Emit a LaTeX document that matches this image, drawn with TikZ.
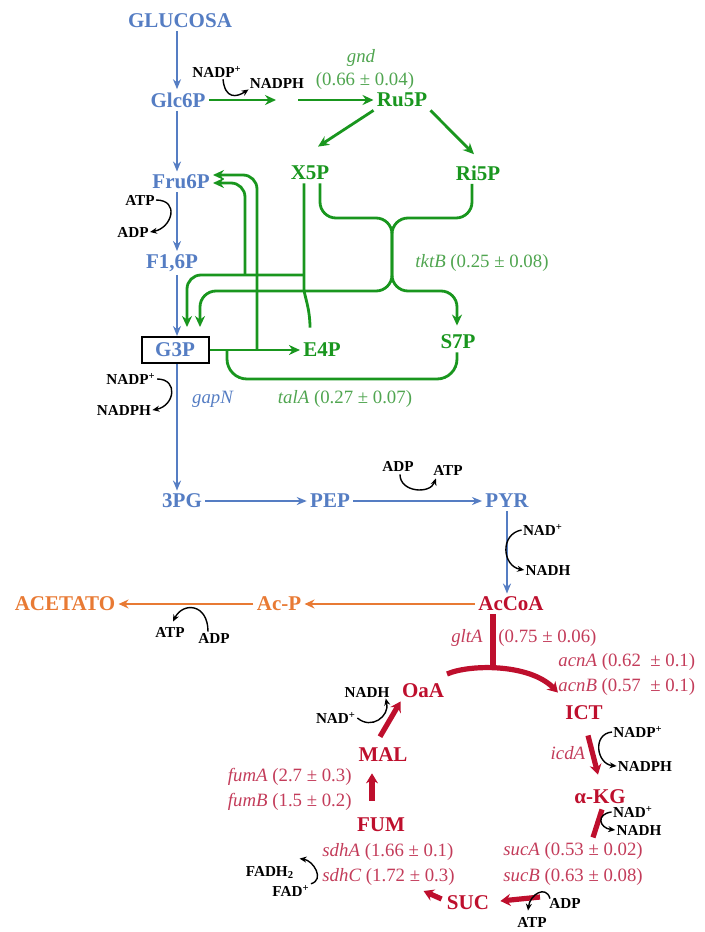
\documentclass[tikz,border=0pt]{standalone}
\usepackage{fontspec}
\setmainfont{Liberation Serif}
\usetikzlibrary{arrows.meta,calc}
\definecolor{glyblue}{RGB}{85,125,195}
\definecolor{pppgreen}{RGB}{25,150,30}
\definecolor{pppgene}{RGB}{80,165,80}
\definecolor{acorange}{RGB}{232,122,52}
\definecolor{tcared}{RGB}{190,15,45}
\definecolor{tcagene}{RGB}{195,60,90}
\tikzset{
  met/.style={
    font=\fontsize{10.5}{12}\selectfont\bfseries,
    inner sep=1.5pt
  },
  glcmet/.style={met, text=glyblue},
  pppmet/.style={met, text=pppgreen},
  acmet/.style={met, text=acorange},
  tcamet/.style={met, text=tcared},
  cofac/.style={font=\fontsize{7.6}{9}\selectfont\bfseries, inner sep=0.5pt},
  gene/.style={font=\fontsize{9.4}{11}\selectfont, inner sep=0pt},
  glyflow/.style={glyblue, line width=1pt, -{Stealth[length=5pt,width=4pt]}},
  pppline/.style={pppgreen, line width=1.4pt, rounded corners=7pt},
  pppflow/.style={pppline, -{Stealth[length=5.5pt,width=5pt]}},
  acflow/.style={acorange, line width=1.4pt, -{Stealth[length=5pt,width=4.5pt]}},
  tcastub/.style={tcared, line width=2.6pt},
  tcaflow/.style={tcastub, -{Stealth[length=5pt,width=6pt]}},
  cofflow/.style={black, line width=0.7pt, -{Stealth[length=3.5pt,width=3pt]}}
}

\begin{document}
\begin{tikzpicture}[x=0.5pt, y=-0.5pt]
  \useasboundingbox (0,0) rectangle (705,932);
  % glycolysis
  \coordinate (glycol) at (177,0);
  \node[glcmet] (glucosa) at (180,21) {GLUCOSA};
  \node[glcmet] (glc6p) at (178,100) {Glc6P};
  \node[glcmet] (fru6p) at (181,182) {Fru6P};
  \node[glcmet] (f16p) at (172,263) {F1,6P};
  \node[glcmet, draw=black, line width=1pt, minimum width=33.5pt, minimum height=13pt]
    (g3p) at (175,350) {G3P};
  \node[glcmet] (pg3) at (182,501) {3PG};
  \node[glcmet] (pep) at (330,501) {PEP};
  \node[glcmet] (pyr) at (507,501) {PYR};
  \node[tcamet] (accoa) at (511,604) {AcCoA};
  \node[acmet] (acp) at (279,604) {Ac-P};
  \node[acmet] (acetato) at (65,604) {ACETATO};
  % pentose phosphate
  \node[pppmet] (ru5p) at (402,100) {Ru5P};
  \node[pppmet] (x5p) at (310,173) {X5P};
  \node[pppmet] (ri5p) at (478,173) {Ri5P};
  \node[pppmet] (e4p) at (322,350) {E4P};
  \node[pppmet] (s7p) at (458,342) {S7P};
  % TCA
  \node[tcamet] (oaa) at (423,691) {OaA};
  \node[tcamet] (ict) at (584,713) {ICT};
  \node[tcamet] (akg) at (600,797) {α-KG};
  \node[tcamet] (mal) at (383,755) {MAL};
  \node[tcamet] (fum) at (381,825) {FUM};
  \node[tcamet] (suc) at (468,903) {SUC};

  % cofactors
  \node[cofac] (nadpa) at (217,72) {NADP\textsuperscript{+}};
  \node[cofac] (nadpha) at (277,83) {NADPH};
  \node[cofac] (atpa) at (140,200) {ATP};
  \node[cofac] (adpa) at (133,232) {ADP};
  \node[cofac] (nadpb) at (131,379) {NADP\textsuperscript{+}};
  \node[cofac] (nadphb) at (124,410) {NADPH};
  \node[cofac] (adpb) at (398,466) {ADP};
  \node[cofac] (atpb) at (448,470) {ATP};
  \node[cofac] (nada) at (543,530) {NAD\textsuperscript{+}};
  \node[cofac] (nadha) at (548,570) {NADH};
  \node[cofac] (atpc) at (170,632) {ATP};
  \node[cofac] (adpc) at (214,638) {ADP};
  \node[cofac] (nadhb) at (367,692) {NADH};
  \node[cofac] (nadb) at (336,718) {NAD\textsuperscript{+}};
  \node[cofac] (nadpc) at (638,732) {NADP\textsuperscript{+}};
  \node[cofac] (nadphc) at (645,766) {NADPH};
  \node[cofac] (nadc) at (633,812) {NAD\textsuperscript{+}};
  \node[cofac] (nadhc) at (639,830) {NADH};
  \node[cofac] (fadh) at (270,872) {FADH\textsubscript{2}};
  \node[cofac] (fad) at (291,891) {FAD\textsuperscript{+}};
  \node[cofac] (adpd) at (565,903) {ADP};
  \node[cofac] (atpd) at (532,922) {ATP};

  % genes
  \node[gene, text=pppgene] (gnd) at (361,58) {\textit{gnd}};
  \node[gene, text=pppgene] (gndv) at (365,81) {(0.66 ± 0.04)};
  \node[gene, text=pppgene] (tktb) at (482,263) {\textit{tktB} (0.25 ± 0.08)};
  \node[gene, text=pppgene] (tala) at (345,399) {\textit{talA} (0.27 ± 0.07)};
  \node[gene, text=glyblue] (gapn) at (213,399) {\textit{gapN}};
  \node[gene, text=tcagene] (glta) at (467,638) {\textit{gltA}};
  \node[gene, text=tcagene, anchor=west] (gltav) at (498,638) {(0.75 ± 0.06)};
  \node[gene, text=tcagene, anchor=west] (acna) at (558,662) {\textit{acnA} (0.62 \ ± 0.1)};
  \node[gene, text=tcagene, anchor=west] (acnb) at (558,687) {\textit{acnB} (0.57 \ ± 0.1)};
  \node[gene, text=tcagene] (icda) at (568,753) {\textit{icdA}};
  \node[gene, text=tcagene, anchor=east] (fuma) at (352,777) {\textit{fumA} (2.7 ± 0.3)};
  \node[gene, text=tcagene, anchor=east] (fumb) at (352,802) {\textit{fumB} (1.5 ± 0.2)};
  \node[gene, text=tcagene, anchor=west] (sdha) at (322,852) {\textit{sdhA} (1.66 ± 0.1)};
  \node[gene, text=tcagene, anchor=west] (sdhc) at (322,877) {\textit{sdhC} (1.72 ± 0.3)};
  \node[gene, text=tcagene, anchor=west] (suca) at (503,851) {\textit{sucA} (0.53 ± 0.02)};
  \node[gene, text=tcagene, anchor=west] (sucb) at (503,877) {\textit{sucB} (0.63 ± 0.08)};

  % glycolysis arrows
  \foreach \a/\b in {glucosa/glc6p, glc6p/fru6p, fru6p/f16p, f16p/g3p, g3p/pg3}
    \draw[glyflow] (\a.south -| glycol) -- (\b.north -| glycol);
  \draw[glyflow] (pg3) -- (pep);
  \draw[glyflow] (pep) -- (pyr);
  \draw[glyflow] (pyr) -- (pyr |- accoa.north);

  % pentose phosphate arrows
  \coordinate (pgl) at (276,100);
  \coordinate (pgr) at (298,100);
  \coordinate (x5pj) at (304,275);
  \coordinate (x5pr) at (320,218);
  \coordinate (ri5pd) at (472,218);
  \coordinate (xcross) at (392,254);
  \coordinate (s7pin) at (457,291);
  \coordinate (g3pa) at (187,275);
  \coordinate (g3pb) at (200,291);
  \coordinate (fru6pa) at (245,183);
  \coordinate (fru6pb) at (257,175);
  \coordinate (talj) at (227,350);
  \coordinate (talb) at (457,379);
  \draw[pppflow] (glc6p) -- (pgl);
  \draw[pppflow] (pgr) -- (ru5p);
  \draw[pppflow] (ru5p.south west) -- ($(x5p.north)+(8,-16)$);
  \draw[pppflow] (ru5p.south east) -- ($(ri5p.north)+(-4,-8)$);
  \draw[pppline] (x5p.south -| x5pj) -- (x5pj)
    .. controls +(0,20) and +(0,-20) .. ($(e4p.north)+(-12,-12)$);
  \draw[pppflow] (x5pj) -- (g3pa) -- ($(g3p.north -| g3pa)+(0,-9)$);
  \draw[pppflow] (x5pj -| fru6pa) -- (fru6pa) -- (fru6pa -| fru6p.east);
  \draw[pppflow] (g3p -| fru6pb) -- (fru6pb) -- (fru6pb -| fru6p.east);
  \draw[pppflow] (g3p) -- (e4p);
  \draw[pppline, rounded corners=10pt] (talj) -- (talj |- talb) -- (talb) -- (s7p.south -| talb);
  \draw[pppflow, rounded corners=8pt] (x5p.south -| x5pr) -- (x5pr) -- (x5pr -| xcross)
    -- (s7pin -| xcross) -- (s7pin) -- ($(s7p.north -| s7pin)+(0,-6)$);
  \draw[pppflow, rounded corners=8pt] (ri5p.south -| ri5pd) -- (ri5pd) -- (ri5pd -| xcross)
    -- (g3pb -| xcross) -- (g3pb) -- ($(g3p.north -| g3pb)+(0,-9)$);

  % acetate arrows
  \draw[acflow] (accoa) -- (acp);
  \draw[acflow] (acp) -- (acetato);

  % TCA arrows
  \coordinate (gltj) at (493,668);
  \coordinate (oaaarc) at (447,674);
  \coordinate (sucin) at (540,897);
  \draw[tcastub] (accoa.south -| gltj) -- (gltj);
  \draw[tcaflow] (oaaarc) .. controls +(23,-10) and +(-28,-29) .. ($(ict.north west)+(-4,-10)$);
  \draw[tcaflow] ($(ict.south)+(4,12)$) -- ($(akg.north)+(-2,-12)$);
  \draw[tcastub] ($(akg.south)+(2,2)$) -- ($(akg.south)+(-7,30)$);
  \draw[tcaflow] (sucin) -- ($(suc.east)+(8,-2)$);
  \draw[tcaflow] ($(suc.west)+(-2,-4)$) -- ($(suc.west)+(-20,-12)$);
  \draw[tcaflow] ($(fum.north)+(-9,-14)$) -- ($(mal.south)+(-11,8)$);
  \draw[tcaflow] ($(mal.north)+(-3,-8)$) -- ($(oaa.south west)+(2,0)$);

  % cofactor arrows
  \draw[cofflow] ($(nadpa.south)+(6,0)$) .. controls +(2,20) and +(-12,8) .. (nadpha.south west);
  \draw[cofflow] (atpa.east) .. controls +(24,0) and +(22,-4) .. (adpa.east);
  \draw[cofflow] (nadpb.east) .. controls +(22,0) and +(22,-4) .. (nadphb.east);
  \draw[cofflow] ($(adpb.south)+(2,2)$) .. controls +(0,18) and +(-6,16) .. ($(atpb.south west)+(4,2)$);
  \draw[cofflow] (nada.west) .. controls +(-22,4) and +(-22,-4) .. (nadha.west);
  \draw[cofflow] ($(adpc.north)+(-6,0)$) .. controls +(0,-28) and +(10,-20) .. ($(atpc.north)+(3,-4)$);
  \draw[cofflow] (nadb.east) .. controls +(14,12) and +(4,18) .. ($(nadhb.south east)+(-5,0)$);
  \draw[cofflow] (nadpc.west) .. controls +(-20,2) and +(-20,-2) .. (nadphc.west);
  \draw[cofflow] (nadc.west) .. controls +(-16,2) and +(-16,-2) .. (nadhc.west);
  \draw[cofflow] (fad.north east) .. controls +(14,-4) and +(14,2) .. ($(fadh.north east)+(4,-6)$);
  \draw[cofflow] ($(adpd.north west)+(2,2)$) .. controls +(-4,-14) and +(2,-16) .. ($(atpd.north)+(-4,-5)$);
\end{tikzpicture}
\end{document}
